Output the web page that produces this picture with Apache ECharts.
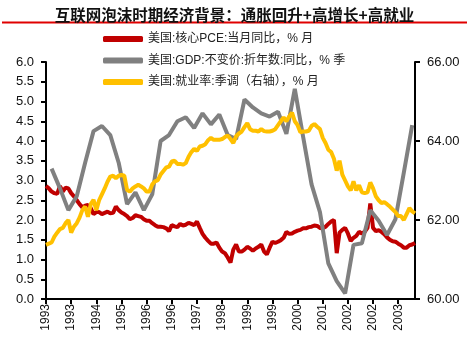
<!DOCTYPE html>
<html>
<head>
<meta charset="utf-8">
<script src="https://cdn.jsdelivr.net/npm/echarts@6/dist/echarts.min.js"></script>
<style>
html,body{margin:0;padding:0;background:#fff;}
#chart{width:469px;height:339px;}
</style>
</head>
<body>
<div id="chart"></div>
<script>
// ---- data ----
var startYear = 1993, startMonth = 1, monthCount = 133; // 1993-01 .. 2004-01
var categories = [];
for (var k = 0; k < monthCount; k++) {
  var m = startMonth - 1 + k;
  var y = startYear + Math.floor(m / 12);
  var mm = (m % 12) + 1;
  categories.push(y + '-' + (mm < 10 ? '0' + mm : mm));
}

var seriesNames = ['美国:核心PCE:当月同比，% 月', '美国:GDP:不变价:折年数:同比，% 季', '美国:就业率:季调（右轴），% 月'];

// Core PCE YoY, monthly, 1993-01 .. 2004-01
var corePCE = [
  2.86,2.80,2.72,2.68,2.66,2.86,2.72,2.82,2.80,2.68,2.60,2.50,
  2.40,2.32,2.36,2.38,2.30,2.15,2.20,2.20,2.15,2.18,2.21,2.17,
  2.18,2.34,2.25,2.19,2.15,2.10,2.02,2.05,2.12,2.10,2.08,2.02,
  1.98,1.98,1.92,1.87,1.83,1.83,1.82,1.79,1.72,1.87,1.84,1.82,
  1.90,1.86,1.88,1.93,1.90,1.87,1.96,1.80,1.65,1.55,1.47,1.40,
  1.40,1.43,1.30,1.20,1.16,1.05,0.92,1.25,1.38,1.20,1.20,1.25,
  1.32,1.28,1.22,1.28,1.32,1.38,1.20,1.13,1.30,1.45,1.42,1.45,
  1.49,1.55,1.70,1.65,1.66,1.70,1.73,1.75,1.79,1.79,1.82,1.83,
  1.86,1.85,1.80,1.79,1.83,1.90,1.96,2.00,1.16,1.68,1.75,1.80,
  1.66,1.47,1.55,1.60,1.70,1.66,1.70,1.80,2.42,1.80,1.72,1.74,
  1.70,1.64,1.56,1.50,1.46,1.45,1.40,1.36,1.30,1.30,1.36,1.38,
  1.42
];

// Real GDP YoY, quarterly 1993Q1 .. 2003Q4 (plotted at quarter-end month)
var gdpQuarterly = [
  3.30,2.80,2.25,2.60,
  3.45,4.25,4.38,4.15,
  3.45,2.40,2.70,2.25,
  2.65,4.00,4.15,4.50,
  4.60,4.33,4.70,4.42,
  4.67,4.15,4.05,5.05,
  4.85,4.70,4.62,4.74,
  4.18,5.32,4.10,2.90,
  2.20,0.90,0.45,0.14,
  1.37,1.41,2.25,1.98,
  1.62,2.02,3.20,4.40
];

// Employment-population ratio (SA), monthly, 1993-01 .. 2004-01
var employment = [
  61.37,61.40,61.43,61.58,61.68,61.77,61.80,61.92,62.00,61.68,61.83,61.92,
  62.06,62.25,62.34,62.08,62.40,62.51,62.25,62.50,62.65,62.80,62.97,63.10,
  63.12,63.06,63.12,63.14,63.12,62.76,62.72,62.80,62.85,62.89,62.85,62.80,
  62.72,62.72,62.90,62.98,63.01,63.15,63.24,63.33,63.35,63.48,63.50,63.42,
  63.42,63.40,63.44,63.60,63.72,63.80,63.75,63.86,63.88,63.92,64.02,64.08,
  64.03,64.03,64.03,64.05,64.10,64.14,64.05,63.95,64.12,64.19,64.24,64.35,
  64.45,64.30,64.26,64.26,64.24,64.30,64.25,64.24,64.24,64.26,64.30,64.40,
  64.50,64.60,64.50,64.62,64.72,64.50,64.40,64.22,64.24,64.24,64.26,64.38,
  64.43,64.36,64.30,64.08,63.95,63.78,63.72,63.55,63.25,63.50,63.15,63.00,
  62.85,62.75,62.98,62.75,62.88,62.70,62.68,62.70,62.95,62.80,62.60,62.50,
  62.43,62.45,62.40,62.34,62.27,62.20,62.10,62.10,62.00,62.15,62.30,62.22,
  62.17
];

// build monthly GDP array (quarter-end months)
var gdpMonthly = categories.map(function () { return null; });
gdpQuarterly.forEach(function (v, q) { gdpMonthly[q * 3 + 2] = v; });

var latin = "'Liberation Sans', Arial, 'Noto Sans CJK SC', sans-serif";

var chart = echarts.init(document.getElementById('chart'), null, {renderer: 'canvas'});
chart.setOption({
  animation: false,
  backgroundColor: '#fff',
  title: {
    text: '互联网泡沫时期经济背景：通胀回升+高增长+高就业',
    left: 'center',
    top: 2,
    textStyle: {fontFamily: "'Noto Sans CJK SC', sans-serif", fontSize: 15.5, fontWeight: 'bold', color: '#111'}
  },
  graphic: [{
    type: 'line', shape: {x1: 2, y1: 22.5, x2: 467, y2: 22.5},
    style: {stroke: '#e00000', lineWidth: 2}
  }],
  legend: {
    orient: 'vertical',
    left: 98,
    top: 28,
    itemWidth: 40,
    itemHeight: 6,
    itemGap: 9.5,
    icon: 'roundRect',
    textStyle: {fontFamily: latin, fontSize: 12, color: '#222'},
    data: seriesNames
  },
  grid: {left: 46, right: 54, top: 62, bottom: 40, containLabel: false},
  xAxis: {
    type: 'category',
    data: categories,
    boundaryGap: false,
    axisLine: {lineStyle: {color: '#000', width: 2}},
    axisTick: {show: true, interval: 8, length: 5, lineStyle: {color: '#000', width: 2}},
    axisLabel: {
      interval: 8, rotate: 90, margin: 5,
      fontFamily: latin, fontSize: 12, color: '#111',
      formatter: function (v) { return v.slice(0, 4); }
    },
    splitLine: {show: false}
  },
  yAxis: [{
    type: 'value', min: 0, max: 6, interval: 0.5,
    axisLine: {show: true, lineStyle: {color: '#000', width: 2}},
    axisTick: {show: true, length: 5, lineStyle: {color: '#000', width: 2}},
    axisLabel: {fontFamily: latin, fontSize: 13, color: '#111', margin: 12,
      formatter: function (v) { return v.toFixed(1); }},
    splitLine: {show: false}
  }, {
    type: 'value', min: 60, max: 66, interval: 2, position: 'right',
    axisLine: {show: true, lineStyle: {color: '#000', width: 2}},
    axisTick: {show: true, length: 5, lineStyle: {color: '#000', width: 2}},
    axisLabel: {fontFamily: latin, fontSize: 13, color: '#111', margin: 12,
      formatter: function (v) { return v.toFixed(2); }},
    splitLine: {show: false}
  }],
  series: [{
    name: seriesNames[0], type: 'line', data: corePCE, yAxisIndex: 0,
    symbol: 'none', lineStyle: {color: '#c00000', width: 4}, itemStyle: {color: '#c00000'}
  }, {
    name: seriesNames[1], type: 'line', data: gdpMonthly, yAxisIndex: 0, connectNulls: true,
    symbol: 'none', lineStyle: {color: '#808080', width: 4}, itemStyle: {color: '#808080'}
  }, {
    name: seriesNames[2], type: 'line', data: employment, yAxisIndex: 1,
    symbol: 'none', lineStyle: {color: '#ffc000', width: 4}, itemStyle: {color: '#ffc000'}
  }]
});
</script>
</body>
</html>
